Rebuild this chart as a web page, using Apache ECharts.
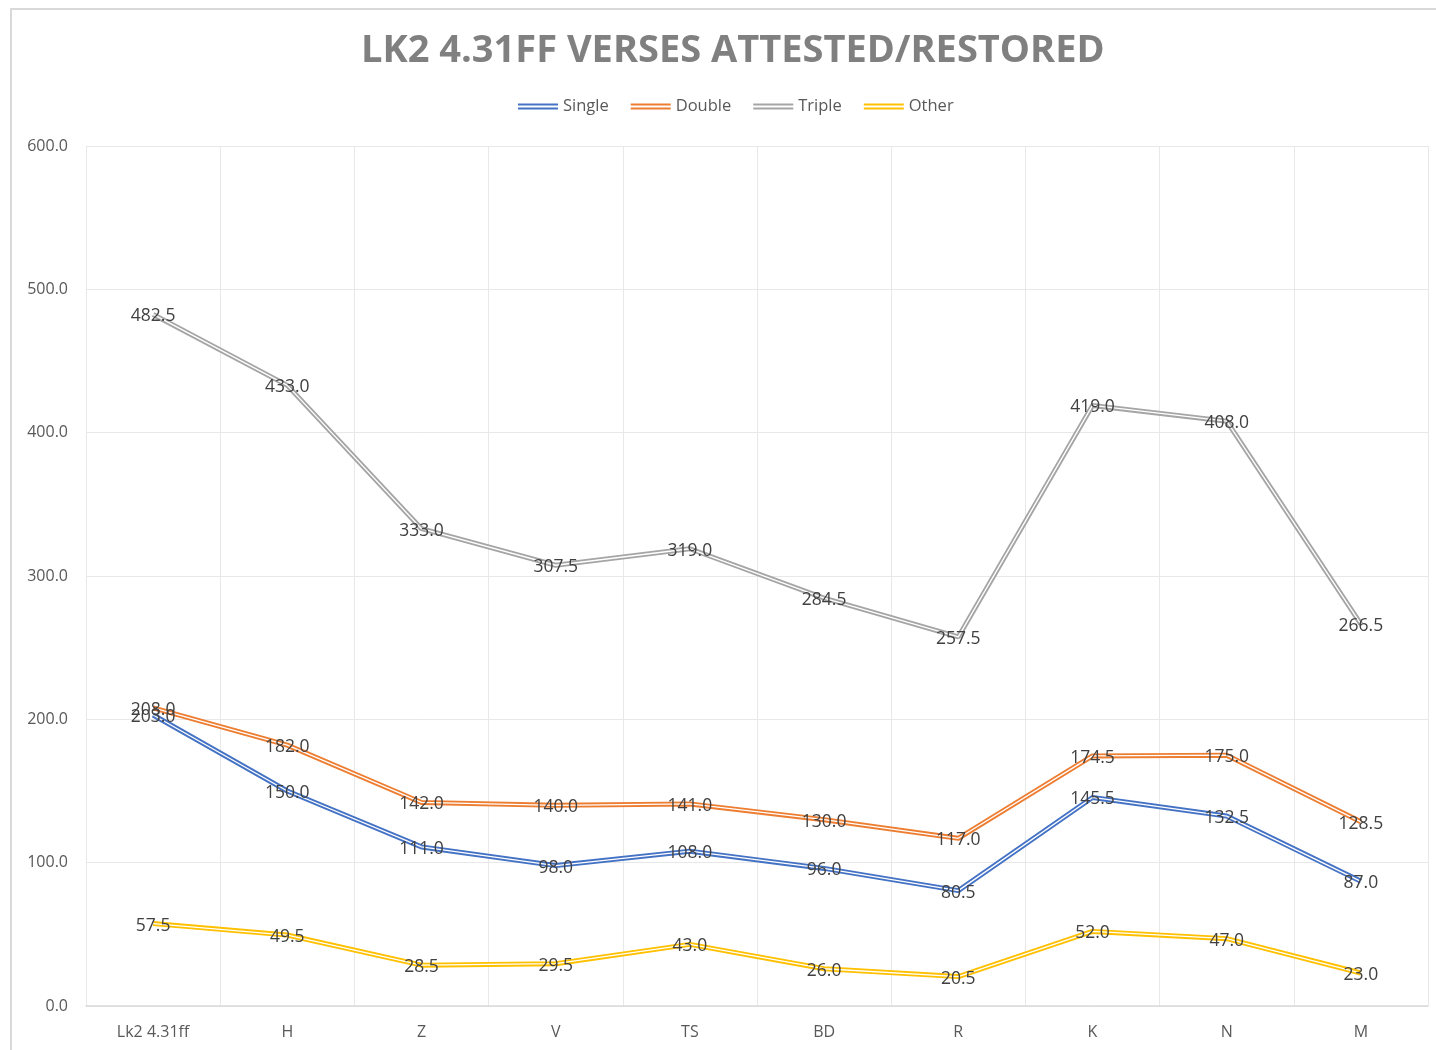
<!DOCTYPE html>
<html>
<head>
<meta charset="utf-8">
<style>
  html, body { margin: 0; padding: 0; background: #fff; }
  #chart { width: 1436px; height: 1050px; }
</style>
<script src="https://cdn.jsdelivr.net/npm/echarts@6/dist/echarts.min.js"></script>
</head>
<body>
<div id="chart"></div>
<script>
// Categories (manuscripts / witnesses)
const categories = ['Lk2 4.31ff', 'H', 'Z', 'V', 'TS', 'BD', 'R', 'K', 'N', 'M'];

// Verse counts per category
const single = [203.0, 150.0, 111.0, 98.0, 108.0, 96.0, 80.5, 145.5, 132.5, 87.0];
const double = [208.0, 182.0, 142.0, 140.0, 141.0, 130.0, 117.0, 174.5, 175.0, 128.5];
const triple = [482.5, 433.0, 333.0, 307.5, 319.0, 284.5, 257.5, 419.0, 408.0, 266.5];
const other  = [57.5, 49.5, 28.5, 29.5, 43.0, 26.0, 20.5, 52.0, 47.0, 23.0];

const seriesDefs = [
  { name: 'Single', data: single, color: '#4472C4' },
  { name: 'Double', data: double, color: '#ED7D31' },
  { name: 'Triple', data: triple, color: '#A5A5A5' },
  { name: 'Other',  data: other,  color: '#FFC000' }
];

// Each series is drawn as a "double line": a wide coloured stroke with a thin white core.
const series = [];
seriesDefs.forEach(function (d) {
  series.push({
    name: d.name,
    type: 'line',
    data: d.data,
    symbol: 'circle',
    symbolSize: 0,
    showSymbol: true,
    color: d.color,
    lineStyle: { color: d.color, width: 5 },
    itemStyle: { color: d.color },
    label: {
      show: true,
      position: 'inside',
      offset: [0, 2],
      formatter: function (p) { return p.value.toFixed(1); },
      color: '#404040',
      fontSize: 17.5,
      fontFamily: 'Open Sans'
    },
    emphasis: { disabled: true },
    animation: false
  });
  series.push({
    name: d.name + '_core',
    type: 'line',
    data: d.data,
    symbol: 'none',
    lineStyle: { color: '#ffffff', width: 1.3 },
    emphasis: { disabled: true },
    silent: true,
    animation: false
  });
});

const doubleLineIcon = 'path://M0,0H40V2H0Z M0,4H40V6H0Z';

const chart = echarts.init(document.getElementById('chart'), null, { renderer: 'canvas' });
chart.setOption({
  backgroundColor: '#ffffff',
  animation: false,
  title: {
    text: 'LK2 4.31FF VERSES ATTESTED/RESTORED',
    left: 356,
    top: 27,
    textStyle: {
      fontFamily: 'Open Sans',
      fontWeight: 'bold',
      fontSize: 38,
      color: '#808080'
    }
  },
  legend: {
    top: 93,
    left: 513,
    itemWidth: 40,
    itemHeight: 6,
    itemGap: 22,
    icon: doubleLineIcon,
    data: seriesDefs.map(function (d) {
      return { name: d.name, icon: doubleLineIcon, itemStyle: { color: d.color } };
    }),
    textStyle: { fontFamily: 'Open Sans', fontSize: 16.5, color: '#595959' }
  },
  graphic: [
    {
      type: 'polyline',
      shape: { points: [[11, 1050], [11, 9], [1436, 9]] },
      style: { stroke: '#D9D9D9', lineWidth: 2, fill: null },
      silent: true
    }
  ],
  grid: { left: 86, right: 8, top: 146, bottom: 44, containLabel: false },
  xAxis: {
    type: 'category',
    data: categories,
    boundaryGap: true,
    axisLine: { show: true, lineStyle: { color: '#D9D9D9', width: 1.5 } },
    axisTick: { show: false },
    axisLabel: { color: '#595959', fontSize: 16, fontFamily: 'Open Sans', margin: 18 },
    splitLine: { show: true, lineStyle: { color: '#E8E8E8', width: 1 } }
  },
  yAxis: {
    type: 'value',
    min: 0,
    max: 600,
    interval: 100,
    axisLine: { show: false },
    axisTick: { show: false },
    axisLabel: {
      color: '#595959',
      fontSize: 16,
      fontFamily: 'Open Sans',
      margin: 18,
      formatter: function (v) { return v.toFixed(1); }
    },
    splitLine: { show: true, lineStyle: { color: '#E8E8E8', width: 1 } }
  },
  series: series
});
</script>
</body>
</html>
